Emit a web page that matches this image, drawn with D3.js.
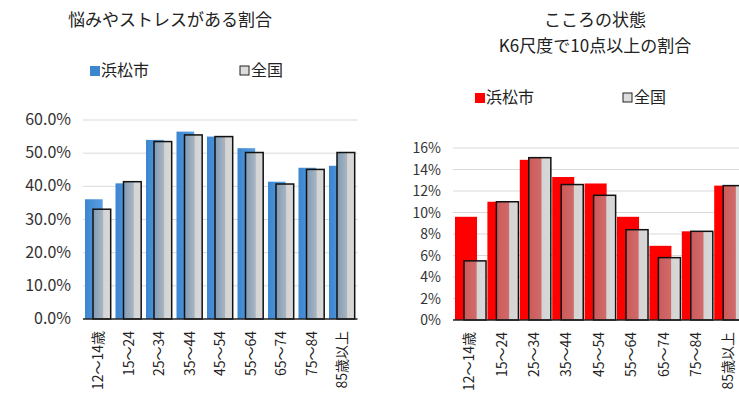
<!DOCTYPE html>
<html lang="ja">
<head>
<meta charset="UTF-8">
<script src="https://d3js.org/d3.v7.min.js"></script>
<style>
body { margin: 0; background: #fff; }
* { font-family: 'Noto Sans CJK JP', sans-serif; }
</style>
</head>
<body>
<svg id="canvas" width="739" height="414"></svg>
<script>
let categories = ['12～14歳', '15～24', '25～34', '35～44', '45～54', '55～64', '65～74', '75～84', '85歳以上']
let stressCity = [36.1, 40.9, 54.0, 56.5, 55.0, 51.5, 41.4, 45.6, 46.2]
let stressNation = [33.1, 41.4, 53.5, 55.5, 55.0, 50.2, 40.7, 45.1, 50.2]
let k6City = [9.6, 11.0, 14.9, 13.3, 12.7, 9.6, 6.9, 8.25, 12.5]
let k6Nation = [5.5, 11.0, 15.1, 12.6, 11.6, 8.4, 5.8, 8.25, 12.5]
let stressTicks = [0, 10, 20, 30, 40, 50, 60]
let k6Ticks = [0, 2, 4, 6, 8, 10, 12, 14, 16]

let svg = d3.select('#canvas')
let defs = svg.append('defs')

let addGrad = (id, stops) => {
    let g = defs.append('linearGradient').attr('id', id)
    stops.forEach(s => g.append('stop').attr('offset', s[0]).attr('stop-color', s[1]))
}
addGrad('blue', [['0%', '#3c86d0'], ['100%', '#5a9ee0']])
addGrad('grayB', [['0%', '#7f9bb5'], ['55%', '#a8b4c0'], ['60%', '#d4d4d4'], ['100%', '#d8d8d8']])
addGrad('grayR', [['0%', '#cc5a5a'], ['55%', '#d06a6a'], ['60%', '#d4d4d4'], ['100%', '#d8d8d8']])

let drawChart = (opt) => {
    let x = d3.scaleBand().domain(categories).range([opt.x0, opt.x0 + opt.band * categories.length])
    let y = d3.scaleLinear().domain([0, opt.max]).range([opt.y0, opt.y1])
    let g = svg.append('g')

    g.selectAll('.grid').data(opt.ticks.slice(1)).enter().append('line')
        .attr('x1', x.range()[0]).attr('x2', x.range()[1])
        .attr('y1', d => y(d)).attr('y2', d => y(d))
        .attr('stroke', '#d9d9d9')

    let bw = opt.band * opt.bwRatio
    g.selectAll('.city').data(opt.city).enter().append('rect')
        .attr('x', (d, i) => x(categories[i]) + 2)
        .attr('y', d => y(d)).attr('width', bw).attr('height', d => opt.y0 - y(d))
        .attr('fill', opt.cityFill)
    g.selectAll('.nation').data(opt.nation).enter().append('rect')
        .attr('x', (d, i) => x(categories[i]) + 2 + opt.shift)
        .attr('y', d => y(d)).attr('width', bw).attr('height', d => opt.y0 - y(d))
        .attr('fill', opt.nationFill).attr('stroke', '#111').attr('stroke-width', 1.5)

    g.append('line').attr('x1', x.range()[0]).attr('x2', x.range()[1])
        .attr('y1', opt.y0).attr('y2', opt.y0).attr('stroke', '#222').attr('stroke-width', 1.5)

    g.selectAll('.yl').data(opt.ticks).enter().append('text')
        .attr('x', opt.x0 - 12).attr('y', d => y(d) + 5)
        .attr('text-anchor', 'end').attr('font-size', opt.yFont).attr('fill', '#333')
        .text(opt.fmt)

    g.selectAll('.xl').data(categories).enter().append('text')
        .attr('transform', d => `translate(${x(d) + opt.band / 2 + 5},${opt.y0 + 12}) rotate(-90)`)
        .attr('text-anchor', 'end').attr('font-size', 14).attr('fill', '#222')
        .text(d => d)

    opt.title.forEach((t, i) => g.append('text')
        .attr('x', opt.tx).attr('y', 26 + i * 26).attr('text-anchor', 'middle')
        .attr('font-size', 17).attr('fill', '#222').text(t))

    let lg = g.append('g').attr('transform', `translate(${opt.lx},${opt.ly})`)
    lg.append('rect').attr('x', 0).attr('y', -10).attr('width', 10).attr('height', 10).attr('fill', opt.legendCity)
    lg.append('text').attr('x', 11).attr('y', 0).attr('font-size', 16).attr('fill', '#222').text('浜松市')
    lg.append('rect').attr('x', opt.lgap).attr('y', -10).attr('width', 9).attr('height', 9)
        .attr('fill', '#ddd').attr('stroke', '#222')
    lg.append('text').attr('x', opt.lgap + 11).attr('y', 0).attr('font-size', 16).attr('fill', '#222').text('全国')
}

drawChart({
    x0: 83, band: 30.5, y0: 319, y1: 120, max: 60, ticks: stressTicks,
    city: stressCity, nation: stressNation, cityFill: 'url(#blue)', nationFill: 'url(#grayB)',
    bwRatio: 0.58, shift: 8,
    fmt: d => d.toFixed(1) + '%', yFont: 16,
    title: ['悩みやストレスがある割合'], tx: 170,
    lx: 90, ly: 76, lgap: 150, legendCity: '#3c86d0'
})

drawChart({
    x0: 453, band: 32.4, y0: 320, y1: 148, max: 16, ticks: k6Ticks,
    city: k6City, nation: k6Nation, cityFill: '#ff0000', nationFill: 'url(#grayR)',
    bwRatio: 0.68, shift: 9,
    fmt: d => d + '%', yFont: 14,
    title: ['こころの状態', 'K6尺度で10点以上の割合'], tx: 595,
    lx: 475, ly: 103, lgap: 148, legendCity: '#ff0000'
})
</script>
</body>
</html>
